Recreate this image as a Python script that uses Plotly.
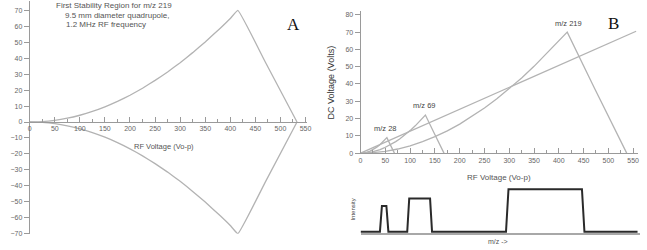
import plotly.graph_objects as go

W, H = 647, 250

# ---- data ----
# m/z 219 stability region boundary (RF volts, DC volts)
a_rf = [0, 25, 50, 75, 100, 125, 150, 175, 200, 225, 250, 275, 300, 325, 350, 380, 400, 415, 470, 533]
a_dc = [0, 0.27, 1.06, 2.39, 4.24, 6.61, 9.50, 12.9, 16.8, 21.2, 26.1, 31.4, 37.2, 43.5, 50.2,
        58.8, 64.9, 70, 37.5, 0]
a_dc_neg = [0, -0.27, -1.06, -2.39, -4.24, -6.61, -9.50, -12.9, -16.8, -21.2, -26.1, -31.4, -37.2,
            -43.5, -50.2, -58.8, -64.9, -70, -37.5, 0]

# panel B triangles
m28_rf = [0, 6.4, 12.8, 19.2, 25.6, 32.0, 38.4, 44.8, 48.6, 53.1, 60.1, 68.3]
m28_dc = [0, 0.14, 0.54, 1.21, 2.15, 3.33, 4.76, 6.42, 7.52, 8.95, 4.79, 0]
m69_rf = [0, 7.9, 15.8, 23.6, 31.5, 39.4, 47.3, 55.1, 63.0, 70.9, 78.8, 86.6, 94.5, 102.4, 110.3,
          119.7, 126.0, 130.8, 148.1, 168.3]
m69_dc = [0, 0.08, 0.34, 0.75, 1.34, 2.08, 2.99, 4.06, 5.29, 6.68, 8.21, 9.90, 11.7, 13.7, 15.8,
          18.5, 20.4, 22.05, 11.8, 0]
m219_rf = [0, 25, 50, 75, 100, 125, 150, 175, 200, 225, 250, 275, 300, 325, 350, 380, 400, 417, 472, 537]
m219_dc = [0, 0.27, 1.06, 2.39, 4.24, 6.61, 9.50, 12.9, 16.8, 21.2, 26.1, 31.4, 37.2, 43.5, 50.2,
           58.8, 64.9, 70, 37.5, 0]
scan_rf = [0, 556]
scan_dc = [0, 70.5]

# intensity trace (x in RF-volt scale)
sig_rf = [0, 39, 43, 52, 56, 94, 98, 140, 144, 293, 298, 446, 451, 558]
sig_int = [1.5, 1.5, 27.5, 27.5, 1.5, 1.5, 35, 35, 1.5, 1.5, 44.5, 44.5, 1.5, 1.5]

tick_vals_a_y = list(range(-70, 71, 10))
tick_vals_x = list(range(0, 551, 50))
tick_vals_b_y = list(range(0, 81, 10))

LINE = "#b3b3b3"
AXIS = "#9a9a9a"
TXT = "#666666"
FONT = "Liberation Sans"


def px_x(p):
    return p / W


def px_y(p):
    return 1 - p / H


fig = go.Figure()
fig.add_trace(go.Scatter(x=a_rf, y=a_dc, mode="lines", line=dict(color=LINE, width=1.3, shape="spline", smoothing=0.3),
                         xaxis="x", yaxis="y", showlegend=False))
fig.add_trace(go.Scatter(x=a_rf, y=a_dc_neg, mode="lines", line=dict(color=LINE, width=1.3, shape="spline", smoothing=0.3),
                         xaxis="x", yaxis="y", showlegend=False))
for xs, ys in [(m28_rf, m28_dc), (m69_rf, m69_dc), (m219_rf, m219_dc), (scan_rf, scan_dc)]:
    fig.add_trace(go.Scatter(x=xs, y=ys, mode="lines", line=dict(color=LINE, width=1.3),
                             xaxis="x2", yaxis="y2", showlegend=False))
fig.add_trace(go.Scatter(x=sig_rf, y=sig_int, mode="lines", line=dict(color="#2a2a2a", width=2),
                         xaxis="x3", yaxis="y3", showlegend=False))

tickfont = dict(family=FONT, size=7, color=TXT)
minor = dict(dtick=25, ticks="inside", ticklen=3, tickcolor=AXIS, showgrid=False)

ax_x0 = 28
ax_xr = 552
fig.update_layout(
    xaxis=dict(domain=[px_x(ax_x0), px_x(ax_x0 + ax_xr * 0.507)], range=[0, ax_xr],
               anchor="free", position=px_y(123.5), showline=True, linecolor=AXIS, linewidth=1,
               tickvals=tick_vals_x, ticks="inside", ticklen=5, tickcolor=AXIS,
               tickfont=tickfont, showgrid=False, zeroline=False, minor=minor),
    yaxis=dict(domain=[px_y(236.5), px_y(0.8)], range=[-70, 76], anchor="x",
               showline=True, linecolor=AXIS, linewidth=1, tickvals=tick_vals_a_y,
               ticks="outside", ticklen=5, tickcolor=AXIS, tickfont=tickfont,
               showgrid=False, zeroline=False),
    xaxis2=dict(domain=[px_x(362.5), px_x(362.5 + 560 * 0.501)], range=[0, 560], anchor="y2",
                showline=True, linecolor=AXIS, linewidth=1, tickvals=tick_vals_x,
                ticks="inside", ticklen=5, tickcolor=AXIS, tickfont=tickfont,
                showgrid=False, zeroline=False, minor=minor),
    yaxis2=dict(domain=[px_y(155), px_y(11.5)], range=[0, 82], anchor="x2",
                showline=True, linecolor=AXIS, linewidth=1, tickvals=tick_vals_b_y,
                ticks="outside", ticklen=5, tickcolor=AXIS, tickfont=tickfont,
                showgrid=False, zeroline=False),
    xaxis3=dict(domain=[px_x(362.5), px_x(645)], range=[0, 563], anchor="y3",
                showline=True, linecolor="#a8a8a8", linewidth=1.5, showticklabels=False,
                ticks="", showgrid=False, zeroline=False),
    yaxis3=dict(domain=[px_y(236), px_y(186)], range=[0, 50], anchor="x3",
                showline=False, showticklabels=False, ticks="", showgrid=False, zeroline=False),
)

ann = []


def txt(x, y, s, size=7, color=TXT, xanchor="center", family=FONT, angle=0):
    ann.append(dict(x=px_x(x), y=px_y(y), xref="paper", yref="paper", text=s, showarrow=False,
                    xanchor=xanchor, yanchor="middle", textangle=angle,
                    font=dict(family=family, size=size, color=color)))


txt(53, 6, "First Stability Region for m/z 219", size=8, color="#555555", xanchor="left")
txt(61.5, 16, "9.5 mm diameter quadrupole,", size=8, color="#555555", xanchor="left")
txt(63, 25, "1.2 MHz RF frequency", size=8, color="#555555", xanchor="left")
txt(295, 25, "A", size=17, color="#111111", family="Liberation Serif")
txt(618, 24, "B", size=17, color="#111111", family="Liberation Serif")
txt(163.5, 148, "RF Voltage (Vo-p)", size=7.5, color="#555555")
txt(502.5, 180, "RF Voltage (Vo-p)", size=8, color="#555555")
txt(333, 83, "DC Voltage (Volts)", size=9, color="#333333", angle=-90)
txt(387.5, 130, "m/z 28", size=7.5, color="#444444")
txt(427.5, 107, "m/z 69", size=7.5, color="#444444")
txt(573, 24, "m/z 219", size=7.5, color="#444444")
txt(355, 212, "Intensity", size=6, color="#444444", angle=-90)
txt(501, 244, "m/z ->", size=7, color="#555555")

fig.update_layout(width=W, height=H, margin=dict(l=0, r=0, t=0, b=0),
                  paper_bgcolor="white", plot_bgcolor="white", annotations=ann)

fig.write_html("out.html")
